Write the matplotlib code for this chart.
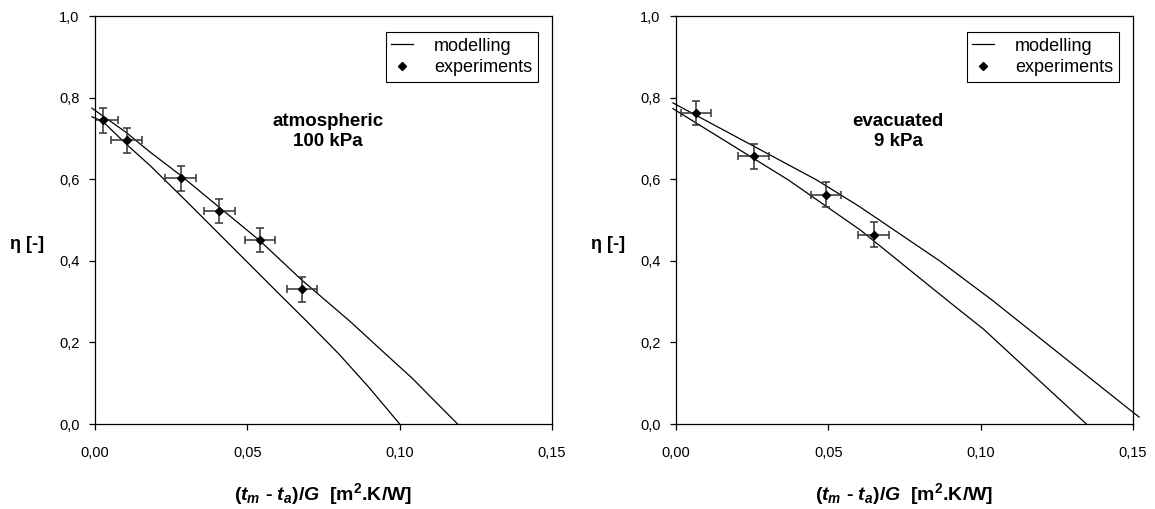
import numpy as np
import matplotlib
matplotlib.use("Agg")
from matplotlib import pyplot as plt

plt.rcParams['font.family'] = ['Liberation Sans', 'DejaVu Sans']
plt.rcParams['mathtext.fontset'] = 'custom'
plt.rcParams['mathtext.rm'] = 'Liberation Sans:bold'
plt.rcParams['mathtext.it'] = 'Liberation Sans:bold:italic'
plt.rcParams['mathtext.bf'] = 'Liberation Sans:bold'

# --- data ---
# atmospheric, 100 kPa
atm_exp_x = [0.0025, 0.0104, 0.0281, 0.0408, 0.0542, 0.0680]
atm_exp_y = [0.744, 0.695, 0.602, 0.522, 0.451, 0.330]
atm_upper_x = [-0.001, 0.010, 0.018, 0.028, 0.040, 0.054, 0.068, 0.0838, 0.094, 0.104, 0.119]
atm_upper_y = [0.774, 0.716, 0.667, 0.610, 0.536, 0.450, 0.352, 0.251, 0.181, 0.113, 0.0]
atm_lower_x = [-0.001, 0.0025, 0.0104, 0.018, 0.030, 0.045, 0.060, 0.070, 0.080, 0.090, 0.100]
atm_lower_y = [0.753, 0.742, 0.685, 0.634, 0.546, 0.434, 0.322, 0.248, 0.172, 0.089, 0.0]

# evacuated, 9 kPa
evac_exp_x = [0.0065, 0.0255, 0.0493, 0.0649]
evac_exp_y = [0.762, 0.656, 0.562, 0.464]
evac_upper_x = [-0.001, 0.0462, 0.0604, 0.0867, 0.1037, 0.1491, 0.152]
evac_upper_y = [0.787, 0.598, 0.532, 0.399, 0.304, 0.034, 0.017]
evac_lower_x = [-0.001, 0.0369, 0.0604, 0.0889, 0.101, 0.1347]
evac_lower_y = [0.773, 0.598, 0.476, 0.304, 0.232, 0.0]

x_err = 0.005
y_err = 0.03

x_ticks = [0.0, 0.05, 0.10, 0.15]
x_ticklabels = ["0,00", "0,05", "0,10", "0,15"]
y_ticks = [0.0, 0.2, 0.4, 0.6, 0.8, 1.0]
y_ticklabels = ["0,0", "0,2", "0,4", "0,6", "0,8", "1,0"]

panels = [
    ("atmospheric\n100 kPa", atm_exp_x, atm_exp_y, atm_upper_x, atm_upper_y, atm_lower_x, atm_lower_y, 0.51),
    ("evacuated\n9 kPa", evac_exp_x, evac_exp_y, evac_upper_x, evac_upper_y, evac_lower_x, evac_lower_y, 0.486),
]

xlabel = r'($t_{m}$ - $t_{a}$)/$G$  [m$^{2}$.K/W]'

fig = plt.figure(figsize=(11.55, 5.09), dpi=100)
axes_left = [95 / 1155, 676 / 1155]

for i, (title, ex, ey, ux, uy, lx, ly, tx) in enumerate(panels):
    ax = fig.add_axes([axes_left[i], 85 / 509, 457 / 1155, 408 / 509])
    ax.plot(ux, uy, '-', color='black', lw=0.9, clip_on=False, label='modelling')
    ax.plot(lx, ly, '-', color='black', lw=0.9, clip_on=False)
    ax.errorbar(ex, ey, xerr=x_err, yerr=y_err, fmt='none', ecolor='#333333',
                elinewidth=1.1, capsize=3, capthick=1.1)
    ax.plot(ex, ey, 'D', color='black', markersize=4, label='experiments')

    ax.set_xlim(0, 0.15)
    ax.set_ylim(0, 1.0)
    ax.set_xticks(x_ticks)
    ax.set_xticklabels(x_ticklabels)
    ax.set_yticks(y_ticks)
    ax.set_yticklabels(y_ticklabels)
    ax.tick_params(direction='out', length=4, width=0.9, labelsize=10.5)
    ax.tick_params(axis='x', pad=12)
    ax.tick_params(axis='y', pad=7)
    for s in ax.spines.values():
        s.set_linewidth(0.9)

    ax.text(tx, 0.716, title, transform=ax.transAxes, ha='center', va='center',
            fontsize=13.5, fontweight='bold', linespacing=1.25)
    ax.text(-0.148, 0.44, "η [-]", transform=ax.transAxes, ha='center', va='center',
            fontsize=13, fontweight='bold')
    ax.set_xlabel(xlabel, fontsize=14, fontweight='bold', labelpad=15)

    leg = ax.legend(loc='upper right', bbox_to_anchor=(0.969, 0.96), borderaxespad=0,
                    fancybox=False, framealpha=1, edgecolor='black', fontsize=13,
                    handlelength=1.2, handletextpad=1.2, borderpad=0.3, labelspacing=0.25)
    leg.get_frame().set_linewidth(0.8)

fig.savefig("out.png", dpi=100)
